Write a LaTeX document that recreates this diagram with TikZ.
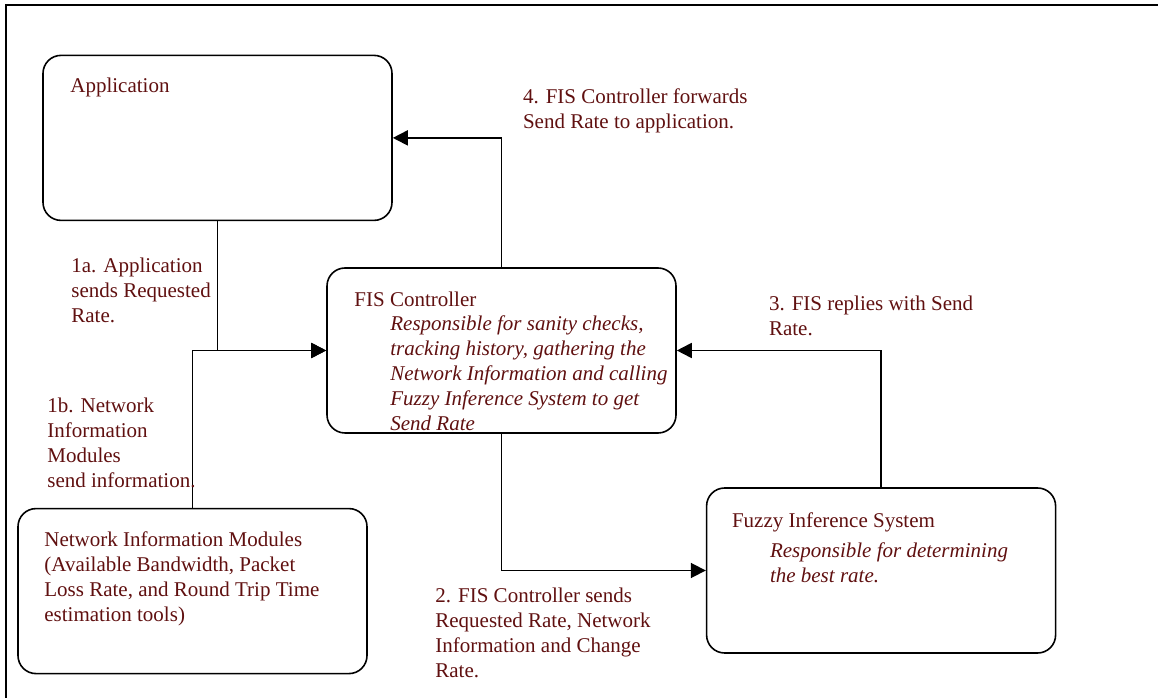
\documentclass[tikz,border=0pt]{standalone}
\usepackage{fontspec}
\setmainfont{Liberation Serif}
\usetikzlibrary{positioning,arrows.meta}

\definecolor{labelred}{RGB}{96,16,16}

\tikzset{
	box/.style={draw, line width=1.6pt, rounded corners=18pt, minimum width=349pt, minimum height=165pt, inner sep=0pt},
	desc/.style={inner sep=0pt, align=left, text=labelred, font=\fontsize{21}{25}\selectfont},
	descit/.style={desc, font=\fontsize{21}{25}\selectfont\itshape},
	flow/.style={line width=1.8pt, -{Triangle[length=15pt,width=15pt]}}
}

\begin{document}
\begin{tikzpicture}[x=1pt,y=1pt]
	\useasboundingbox (0,0) rectangle (1158,698);
	\draw[line width=2.2pt] (6,0) -- (6,693) -- (1158,693);
	
	%% BOXES
	\node[box](fis_ctrl) at (501.5,347.5){};
	\node[box, above=46pt of fis_ctrl, xshift=-284pt](app){};
	\node[box, below=74pt of fis_ctrl, xshift=-309pt](nim){};
	\node[box, right=29pt of fis_ctrl, yshift=-220pt](fis){};
	
	% box texts
	\node[desc, below right=23pt and 28pt of app.north west](app_title){Application};
	\node[desc, below right=25pt and 28pt of fis_ctrl.north west](fis_ctrl_title){FIS Controller};
	\node[descit, below right=48pt and 64pt of fis_ctrl.north west](fis_ctrl_text){Responsible for sanity checks,\\tracking history, gathering the\\Network Information and calling\\Fuzzy Inference System to get\\Send Rate};
	\node[desc, below right=24pt and 27pt of nim.north west](nim_text){Network Information Modules\\(Available Bandwidth, Packet\\Loss Rate, and Round Trip Time\\estimation tools)};
	\node[desc, below right=25pt and 26pt of fis.north west](fis_title){Fuzzy Inference System};
	\node[descit, below right=55pt and 64pt of fis.north west](fis_text){Responsible for determining\\the best rate.};
	
	%% CONNECTORS
	\draw[flow] (app.south) |- (fis_ctrl.west);
	\draw[flow] (nim.north) |- (fis_ctrl.west);
	\draw[flow] (fis_ctrl.south) |- (fis.west);
	\draw[flow] (fis.north) |- (fis_ctrl.east);
	\draw[flow] (fis_ctrl.north) |- (app.east);
	
	% step labels
	\node[desc, below right=37pt and 29pt of app.south west](lbl_request){1a. Application\\sends Requested\\Rate.};
	\node[desc, below right=177pt and 5pt of app.south west](lbl_netinfo){1b. Network\\Information\\Modules\\send information.};
	\node[desc, below right=154pt and 109pt of fis_ctrl.south west](lbl_send){2. FIS Controller sends\\Requested Rate, Network\\Information and Change\\Rate.};
	\node[desc, below right=29pt and 92pt of fis_ctrl.north east](lbl_reply){3. FIS replies with Send\\Rate.};
	\node[desc, below right=34pt and 130pt of app.north east](lbl_forward){4. FIS Controller forwards\\Send Rate to application.};
\end{tikzpicture}
\end{document}
